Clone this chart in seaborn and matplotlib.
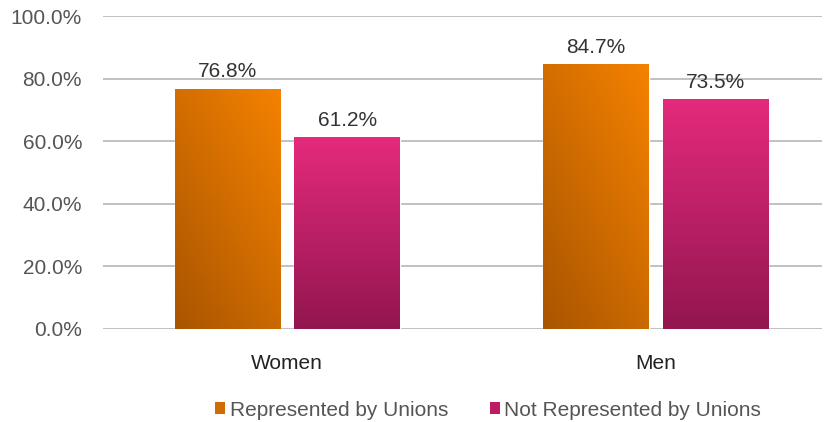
import numpy as np
import pandas as pd
import matplotlib
matplotlib.use("Agg")
import matplotlib.pyplot as plt
import seaborn as sns
from matplotlib.colors import LinearSegmentedColormap
from matplotlib.patches import Patch

groups = ["Women", "Men"]
series = ["Represented by Unions", "Not Represented by Unions"]
represented = [76.8, 84.7]
not_represented = [61.2, 73.5]

colors = {"Represented by Unions": "#e67a00", "Not Represented by Unions": "#cc2168"}

df = pd.DataFrame({
    "group": groups * 2,
    "series": [series[0]] * 2 + [series[1]] * 2,
    "value": represented + not_represented,
})

sns.set_theme(style="white")
plt.rcParams["font.family"] = ["Liberation Sans", "DejaVu Sans"]

fig = plt.figure(figsize=(8.3, 4.22), dpi=100)
ax = fig.add_axes([0.124, 0.2204, 0.866, 0.7416])

sns.barplot(data=df, x="group", y="value", hue="series", order=groups,
            hue_order=series, palette=colors, saturation=1, width=0.65,
            gap=0.12, legend=False, ax=ax, zorder=3)

ax.set_ylim(0, 100)
ax.set_xlim(-0.5, 1.45)
ax.set_yticks(np.arange(0, 101, 20))
ax.set_yticklabels([f"{v:.1f}%" for v in np.arange(0, 101, 20)])
ax.yaxis.grid(True, color="#b0b0b0", linewidth=1.1, zorder=0)
ax.xaxis.grid(False)
for s in ax.spines.values():
    s.set_visible(False)
ax.tick_params(axis="y", labelsize=15, labelcolor="#555555", pad=15, length=0)
ax.tick_params(axis="x", labelsize=15, labelcolor="#222222", pad=18, length=0)
ax.set_xlabel("")
ax.set_ylabel("")

# gradient fills
orange_cmap = LinearSegmentedColormap.from_list("o", ["#a95500", "#f58200"])
pink_cmap = LinearSegmentedColormap.from_list("p", ["#931650", "#e42a7c"])
yy, xx = np.mgrid[0:1:100j, 0:1:100j]
orange_grad = 0.55 * yy + 0.45 * xx
pink_grad = yy

for bar in ax.patches:
    x0, y0 = bar.get_x(), bar.get_y()
    w, h = bar.get_width(), bar.get_height()
    if h <= 0:
        continue
    is_orange = bar.get_facecolor()[1] > 0.3
    img = ax.imshow(orange_grad if is_orange else pink_grad,
                    cmap=orange_cmap if is_orange else pink_cmap,
                    extent=[x0, x0 + w, y0, y0 + h], origin="lower",
                    aspect="auto", zorder=4, vmin=0, vmax=1)
    img.set_clip_path(bar)
    ax.text(x0 + w / 2, h + 2.3, f"{h:.1f}%", ha="center", va="bottom",
            fontsize=15, color="#333333", zorder=5)

ax.set_aspect("auto")
ax.set_xlim(-0.5, 1.45)
ax.set_ylim(0, 100)

handles = [Patch(facecolor="#d16c00", edgecolor="none"),
           Patch(facecolor="#c01a62", edgecolor="none")]
fig.legend(handles, series, loc="center", bbox_to_anchor=(0.588, 0.028),
           ncol=2, frameon=False, fontsize=15, handlelength=0.5,
           handleheight=0.5, handletextpad=0.2, columnspacing=2.0,
           labelcolor="#555555")

fig.savefig("out.png", dpi=100)
